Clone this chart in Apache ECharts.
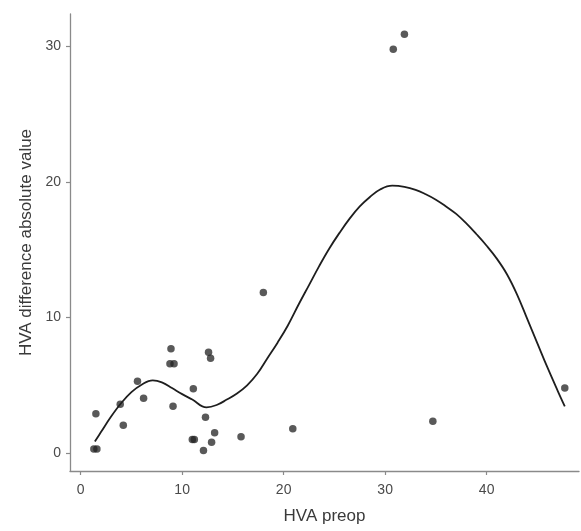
<!DOCTYPE html>
<html>
<head>
<meta charset="utf-8">
<script src="https://cdn.jsdelivr.net/npm/echarts@6/dist/echarts.min.js"></script>
<style>html,body{margin:0;padding:0;background:#fff;}#c{width:581px;height:531px;}</style>
</head>
<body>
<div id="c"></div>
<script>
// scatter data
const pointX = [1.3, 1.6, 1.5, 3.9, 4.2, 5.6, 6.2, 8.9, 8.8, 9.2, 9.1, 11.1, 11.0, 11.2, 12.1, 12.3, 12.6, 12.8, 12.9, 13.2, 15.8, 18.0, 20.9, 30.8, 31.9, 34.7, 47.7];
const pointY = [0.3, 0.3, 2.9, 3.6, 2.05, 5.3, 4.05, 7.7, 6.6, 6.6, 3.45, 4.75, 1.0, 1.0, 0.2, 2.65, 7.45, 7.0, 0.8, 1.5, 1.2, 11.85, 1.8, 29.8, 30.9, 2.35, 4.8];
// smoothed (loess) curve
const curveX = [1.4, 2, 3, 4, 5, 6, 7.1, 8, 9, 10, 11, 12.4, 13.4, 14.4, 15.4, 16.4, 17.4, 18.4, 19.4, 20.4, 21.5, 22.5, 23.5, 24.5, 25.5, 26.5, 27.5, 28.5, 29.5, 30.7, 31.9, 33, 34, 35, 36, 37, 38, 39, 40, 41, 42, 43, 44, 45, 46, 47, 47.7];
const curveY = [0.85, 1.55, 2.7, 3.7, 4.5, 5.05, 5.36, 5.22, 4.8, 4.35, 3.95, 3.38, 3.55, 3.95, 4.4, 5.0, 5.85, 7.0, 8.15, 9.4, 11.0, 12.4, 13.8, 15.1, 16.25, 17.3, 18.2, 18.9, 19.45, 19.73, 19.65, 19.43, 19.1, 18.7, 18.2, 17.65, 16.95, 16.15, 15.3, 14.35, 13.2, 11.7, 9.9, 8.1, 6.3, 4.6, 3.45];
const xTicks = [0, 10, 20, 30, 40];
const yTicks = [0, 10, 20, 30];

const chart = echarts.init(document.getElementById('c'), null, {renderer: 'canvas'});
const font = 'Liberation Sans, Arial, sans-serif';
const lineCol = '#8a8a8a';
chart.setOption({
  animation: false,
  backgroundColor: '#fff',
  grid: {left: 70, top: 14, right: 2, bottom: 60, containLabel: false},
  xAxis: {
    type: 'value', min: -1.05, max: 49.1,
    name: 'HVA preop', nameLocation: 'middle', nameGap: 37,
    nameTextStyle: {fontFamily: font, fontSize: 17, color: '#3a3a3a'},
    axisLine: {show: true, onZero: false, lineStyle: {color: lineCol, width: 1.3}},
    splitLine: {show: false},
    axisLabel: {margin: 12, fontFamily: font, fontSize: 14, color: '#4a4a4a', customValues: xTicks},
    axisTick: {show: true, length: 4, lineStyle: {color: lineCol, width: 1.2}, customValues: xTicks}
  },
  yAxis: {
    type: 'value', min: -1.32, max: 32.4,
    name: 'HVA difference absolute value', nameLocation: 'middle', nameGap: 33, nameRotate: 90,
    nameTextStyle: {fontFamily: font, fontSize: 17, color: '#3a3a3a'},
    axisLine: {show: true, onZero: false, lineStyle: {color: lineCol, width: 1.3}},
    splitLine: {show: false},
    axisLabel: {margin: 9, fontFamily: font, fontSize: 14, color: '#4a4a4a', customValues: yTicks},
    axisTick: {show: true, length: 4, lineStyle: {color: lineCol, width: 1.2}, customValues: yTicks}
  },
  series: [
    {
      type: 'scatter',
      data: pointX.map((x, i) => [x, pointY[i]]),
      symbolSize: 7.5,
      itemStyle: {color: '#222', opacity: 0.75},
      z: 2
    },
    {
      type: 'line',
      data: curveX.map((x, i) => [x, curveY[i]]),
      smooth: 0.4,
      showSymbol: false,
      lineStyle: {color: '#1e1e1e', width: 1.8},
      z: 3
    }
  ]
});
</script>
</body>
</html>
